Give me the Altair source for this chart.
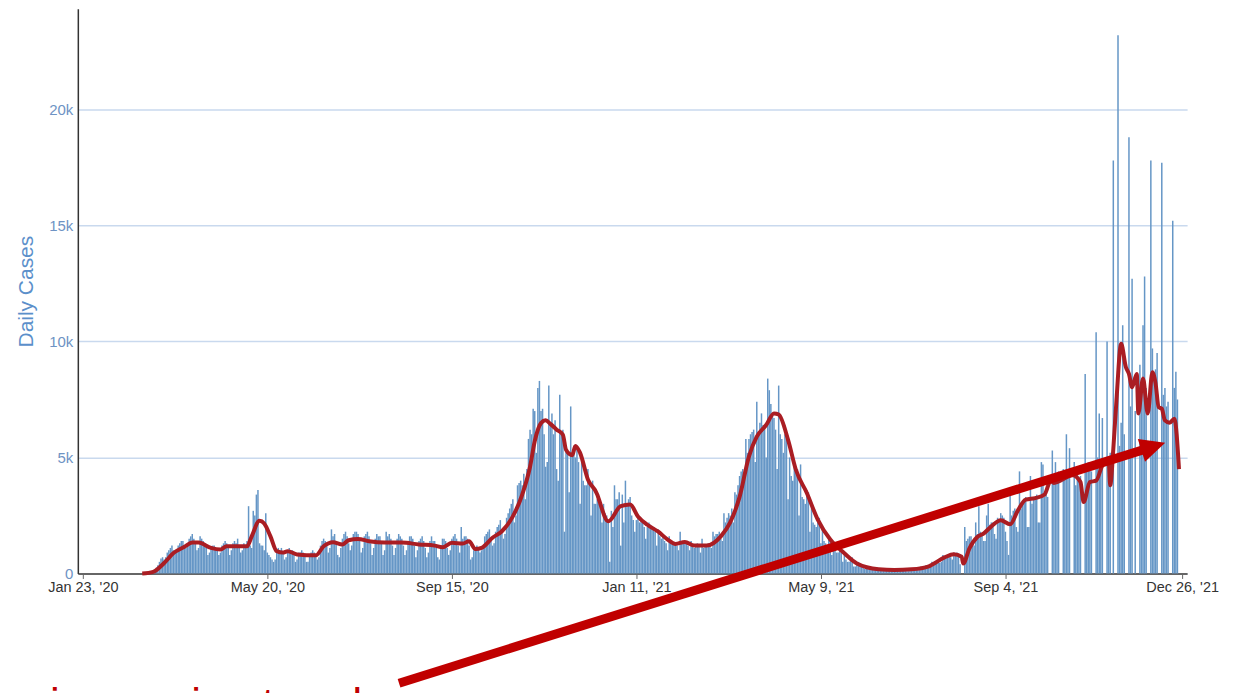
import altair as alt
import pandas as pd

# Daily reported cases, in hundreds, one row per week (Sun..Sat), starting Sun 2020-03-01
cases_2020_a = [
    [0, 0, 0, 0.2, 0.3, 0.5, 0.8],
    [1, 1.5, 2.5, 3.5, 5, 6.5, 7],
    [6, 7, 9, 10, 11, 12, 10],
    [9, 10, 12, 13, 14, 14, 12],
    [11, 12, 15, 16, 17, 15, 13],
    [10, 11, 16, 15, 14, 13, 12],
    [8, 9, 11, 12, 12, 11, 10],
    [8, 9, 12, 13, 14, 13, 11],
    [8, 10, 13, 14, 13, 15, 11],
    [9, 10, 13, 12, 14, 29, 12],
    [11, 27, 25, 34, 36, 13, 12],
    [12, 10, 26, 9, 8, 7, 6],
    [5, 6, 10, 11, 10, 11, 9],
    [6, 7, 10, 11, 10, 10, 9],
    [5, 6, 9, 9, 10, 9, 8],
    [5, 5, 8, 9, 10, 9, 8],
    [6, 7, 12, 14, 15, 14, 12],
    [9, 11, 19, 16, 17, 14, 8],
]
cases_2020_b = [
    [7, 11, 15, 17, 18, 16, 13],
    [10, 12, 17, 18, 18, 17, 14],
    [9, 11, 16, 17, 18, 16, 13],
    [8, 11, 15, 17, 16, 16, 13],
    [8, 10, 18, 16, 17, 15, 12],
    [8, 11, 15, 17, 16, 15, 12],
    [8, 10, 14, 16, 16, 15, 12],
    [7, 10, 14, 15, 16, 14, 11],
    [7, 9, 14, 16, 14, 14, 11],
    [7, 6, 11, 15, 15, 14, 11],
    [8, 10, 15, 16, 17, 15, 12],
    [9, 20, 15, 16, 16, 15, 12],
    [6, 7, 10, 11, 12, 11, 9],
    [10, 11, 16, 17, 18, 19, 14],
    [12, 13, 18, 20, 21, 23, 19],
    [15, 17, 24, 26, 28, 30, 32],
    [22, 25, 38, 39, 40, 38, 43],
    [32, 45, 58, 62, 60, 71, 70],
    [52, 80, 83, 70, 71, 60, 46],
    [48, 81, 65, 69, 60, 66, 45],
    [40, 77, 60, 62, 18, 55, 52],
    [35, 72, 52, 55, 50, 55, 48],
    [30, 50, 40, 38, 38, 45, 40],
    [25, 40, 30, 30, 32, 30, 30],
    [22, 30, 26, 25, 22, 5, 27],
    [20, 38, 32, 32, 35, 12, 34],
]
cases_2021_a = [
    [22, 40, 30, 32, 33, 25, 23],
    [18, 23, 25, 22, 24, 22, 20],
    [15, 20, 22, 21, 20, 20, 18],
    [12, 19, 16, 15, 16, 14, 13],
    [10, 16, 13, 13, 13, 12, 12],
    [10, 18, 13, 13, 14, 13, 12],
    [10, 14, 12, 11, 12, 13, 12],
    [9, 15, 11, 12, 12, 13, 12],
    [11, 18, 16, 17, 17, 18, 15],
    [14, 26, 22, 24, 26, 25, 28],
    [22, 35, 34, 38, 42, 44, 45],
    [40, 58, 52, 58, 60, 61, 62],
    [48, 74, 60, 65, 69, 64, 64],
    [50, 84, 79, 73, 68, 67, 62],
    [45, 81, 60, 58, 52, 60, 58],
    [32, 50, 42, 40, 47, 45, 45],
    [25, 47, 33, 32, 30, 36, 35],
    [18, 30, 22, 21, 20, 22, 24],
    [13, 19, 14, 13, 12, 16, 15],
    [8, 12, 10, 9, 9, 10, 9],
    [5, 8, 6, 5, 5, 6, 7],
    [3, 3, 4, 5, 4, 3, 3],
    [2, 3, 3, 2.5, 2.5, 2.5, 2],
    [1.5, 2, 2, 1.8, 1.7, 1.5, 1.5],
    [1.2, 1.8, 1.6, 1.5, 1.5, 1.4, 1.3],
    [1.2, 1.8, 1.6, 1.5, 1.6, 1.3, 1.0],
]
cases_2021_b = [
    [1, 1.5, 2.2, 2, 2, 2, 1.8],
    [2, 3, 3, 3, 3.5, 3.5, 3],
    [3, 5, 4.5, 4.5, 5, 5, 4.5],
    [5, 8, 7, 7, 7.5, 7.5, 7],
    [6, 9, 8, 9, 8, 4, 0],
    [0, 20, 14, 15, 16, 16, 14],
    [12, 22, 17, 29, 18, 17, 14],
    [14, 25, 30, 21, 22, 22, 17],
    [15, 24, 23, 26, 25, 24, 18],
    [14, 8, 34, 25, 27, 28, 20],
    [18, 44, 28, 30, 31, 33, 20],
    [20, 42, 30, 32, 33, 34, 22],
    [22, 48, 47, 33, 34, 33, 0],
    [0, 53, 42, 48, 40, 44, 0],
    [0, 45, 42, 60, 45, 54, 0],
    [0, 48, 38, 44, 40, 42, 0],
    [0, 86, 45, 48, 47, 44, 0],
    [0, 104, 50, 69, 48, 67, 0],
    [0, 100, 50, 52, 0, 178, 0],
    [0, 232, 55, 65, 107, 60, 0],
    [0, 188, 72, 127, 0, 70, 0],
    [0, 90, 75, 107, 128, 80, 0],
    [0, 178, 97, 85, 88, 95, 0],
    [0, 177, 77, 80, 72, 74, 0],
    [0, 152, 80, 87, 75, 0],
]

# 7-day average line (thousands)
avg_dates = [
    "2020-03-01", "2020-03-08", "2020-03-15", "2020-03-21", "2020-03-28", "2020-04-02",
    "2020-04-06", "2020-04-14", "2020-04-20", "2020-04-24", "2020-05-07", "2020-05-10",
    "2020-05-15", "2020-05-18", "2020-05-22", "2020-05-26", "2020-05-30", "2020-06-02",
    "2020-06-08", "2020-06-20", "2020-06-25", "2020-07-01", "2020-07-07", "2020-07-11",
    "2020-07-17", "2020-07-24", "2020-08-03", "2020-08-14", "2020-08-25", "2020-09-04",
    "2020-09-09", "2020-09-15", "2020-09-22", "2020-09-26", "2020-09-30", "2020-10-04",
    "2020-10-11", "2020-10-17", "2020-10-24", "2020-10-30", "2020-11-04", "2020-11-07",
    "2020-11-11", "2020-11-14", "2020-11-17", "2020-11-21", "2020-11-25", "2020-11-27",
    "2020-12-01", "2020-12-03", "2020-12-06", "2020-12-11", "2020-12-17", "2020-12-18",
    "2020-12-24", "2021-01-01", "2021-01-07", "2021-01-12", "2021-01-18", "2021-01-25",
    "2021-01-31", "2021-02-05", "2021-02-11", "2021-02-17", "2021-02-25", "2021-03-06",
    "2021-03-12", "2021-03-18", "2021-03-24", "2021-03-29", "2021-04-04", "2021-04-09",
    "2021-04-12", "2021-04-18", "2021-04-23", "2021-04-30", "2021-05-07", "2021-05-15",
    "2021-05-24", "2021-06-01", "2021-06-15", "2021-06-25", "2021-07-06", "2021-07-17",
    "2021-07-27", "2021-08-02", "2021-08-07", "2021-08-08", "2021-08-12", "2021-08-17",
    "2021-08-21", "2021-08-26", "2021-09-01", "2021-09-07", "2021-09-12", "2021-09-17",
    "2021-09-23", "2021-09-29", "2021-10-03", "2021-10-05", "2021-10-17", "2021-10-22",
    "2021-10-24", "2021-10-28", "2021-11-01", "2021-11-05", "2021-11-09", "2021-11-10",
    "2021-11-12", "2021-11-14", "2021-11-17", "2021-11-20", "2021-11-22", "2021-11-24",
    "2021-11-27", "2021-11-28", "2021-12-01", "2021-12-04", "2021-12-07", "2021-12-09",
    "2021-12-11", "2021-12-13", "2021-12-15", "2021-12-18", "2021-12-21", "2021-12-24",
]
avg_values = [
    0, 0.07, 0.45, 0.88, 1.15, 1.33,
    1.33, 1.1, 1.03, 1.17, 1.17, 1.6,
    2.27, 2.15, 1.6, 0.96, 0.9, 0.96,
    0.82, 0.78, 1.17, 1.35, 1.25, 1.43,
    1.49, 1.39, 1.33, 1.33, 1.25, 1.2,
    1.13, 1.32, 1.29, 1.39, 1.05, 1.1,
    1.54, 1.82, 2.46, 3.4, 4.6, 5.7,
    6.48, 6.6, 6.45, 6.2, 5.98, 5.33,
    5.1, 5.5, 5.2, 4.05, 3.4, 3.2,
    2.25, 2.9, 2.97, 2.46, 2.1, 1.8,
    1.46, 1.27, 1.36, 1.2, 1.2, 1.6,
    2.2, 3.3, 5.05, 5.9, 6.4, 6.9,
    6.85, 5.76, 4.47, 3.47, 2.32, 1.46,
    0.87, 0.43, 0.18, 0.15, 0.18, 0.31,
    0.69, 0.83, 0.72, 0.43, 1.08, 1.57,
    1.72, 2.03, 2.29, 2.12, 2.72, 3.18,
    3.25, 3.4, 4.0, 3.9, 4.23, 3.94,
    3.08, 3.94, 4.0, 4.66, 4.9, 3.8,
    5.37, 7.45, 9.9, 8.9, 8.6, 8.03,
    8.6, 6.9, 8.4, 6.9, 8.67, 8.2,
    7.17, 7.1, 6.6, 6.5, 6.67, 4.5,
]

x_ticks = ["2020-01-23", "2020-05-20", "2020-09-15", "2021-01-11", "2021-05-09", "2021-09-04", "2021-12-26"]
y_ticks = [0, 5000, 10000, 15000, 20000]

weeks = cases_2020_a + cases_2020_b + cases_2021_a + cases_2021_b
daily = [v for wk in weeks for v in wk]
dates = pd.date_range("2020-03-01", periods=len(daily), freq="D")
bars_df = pd.DataFrame({"date": dates.strftime("%Y-%m-%d"), "cases": [v * 100 for v in daily]})
avg_df = pd.DataFrame({"date": avg_dates, "cases": [v * 1000 for v in avg_values]})


def dt(s):
    y, m, d = (int(p) for p in s.split("-"))
    return alt.DateTime(year=y, month=m, date=d, utc=True)


x_scale = alt.Scale(type="utc", domain=[dt("2020-01-23"), dt("2021-12-26")], nice=False)
y_scale = alt.Scale(domain=[0, 24340], nice=False)

x_axis = alt.Axis(
    values=[dt(s) for s in x_ticks],
    labelExpr='utcFormat(datum.value, "%b %-d, \'%y")',
    title=None, grid=False, domainColor="#666666", domainWidth=2, tickColor="#666666", tickSize=5,
    labelColor="#333333", labelFontSize=14.5, labelFont="Liberation Sans", labelPadding=2,
    labelOverlap=False, labelFlush=False,
)
y_axis = alt.Axis(
    values=y_ticks, labelExpr="datum.value == 0 ? '0' : (datum.value / 1000) + 'k'",
    title="Daily Cases", grid=True, gridColor="#c9d9ee",
    gridWidth=1.5, domainColor="#333333", domainWidth=1.5, ticks=False,
    labelColor="#6e93c4", labelFontSize=15, labelFont="Liberation Sans", labelPadding=5,
    titleColor="#5b8fca", titleFontSize=21, titleFont="Liberation Sans", titleFontWeight="normal",
    titleX=-41, titleY=283, titleAngle=270, titleBaseline="bottom", titleAlign="center",
)

bars = alt.Chart(bars_df).mark_bar(size=1.5, color="#6596c6").encode(
    x=alt.X("date:T", scale=x_scale, axis=x_axis),
    y=alt.Y("cases:Q", scale=y_scale, axis=y_axis),
)
line = alt.Chart(avg_df).mark_line(color="#aa1d23", strokeWidth=4, interpolate="monotone").encode(
    x=alt.X("date:T", scale=x_scale, axis=x_axis),
    y=alt.Y("cases:Q", scale=y_scale, axis=y_axis),
)

one = alt.Data(values=[{"a": 1}])
shaft = alt.Chart(one).mark_rule(color="#c00000", strokeWidth=9).encode(
    x=alt.value(322), y=alt.value(676), x2=alt.value(1071), y2=alt.value(441.1)
)
head = alt.Chart(one).mark_point(
    shape="M-1,-0.95L1,0L-1,0.95Z", filled=True, size=625, angle=342.3,
    color="#c00000", opacity=1, strokeWidth=0,
).encode(x=alt.value(1078.1), y=alt.value(438.8))
label = alt.Chart(one).mark_text(
    text="increasing trend", fontSize=44, font="Liberation Sans", color="#c00000",
    align="left", baseline="alphabetic",
).encode(x=alt.value(-28), y=alt.value(712))

chart = alt.layer(bars, line, shaft, head, label).properties(
    width=1112, height=566,
    padding={"left": 70, "top": 0, "right": 45, "bottom": 120},
    autosize=alt.AutoSizeParams(type="none"),
).configure_view(stroke=None)

chart.save("out.html", embed_options={"renderer": "svg", "actions": False})
